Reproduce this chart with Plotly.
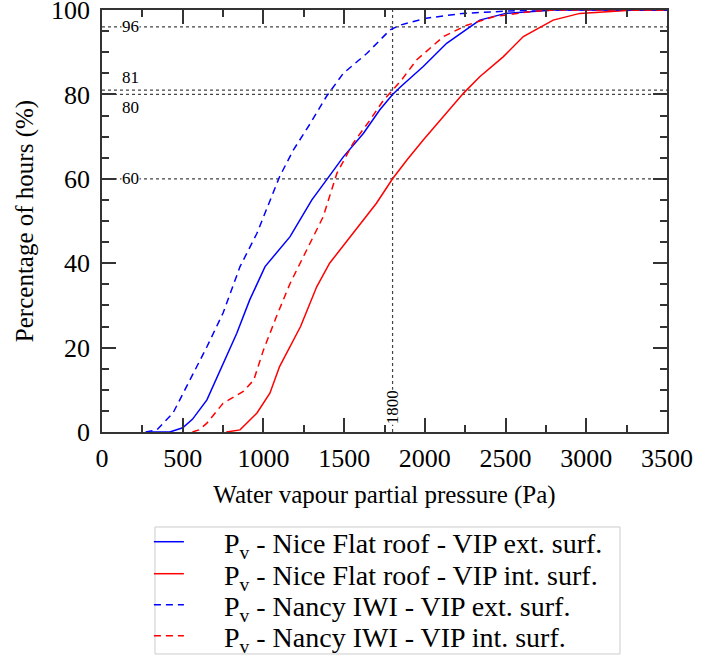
import plotly.graph_objects as go

# Nice flat roof - VIP exterior surface (blue solid)
nice_ext_x = [300, 420, 500, 560, 650, 750, 835, 915, 1010, 1165, 1300, 1390, 1495, 1620, 1720, 1800, 1850, 1990, 2135, 2280, 2340, 2500, 2650, 2800, 3500]
nice_ext_y = [0, 0, 1, 3, 7.6, 16.3, 23.4, 31.3, 39.2, 46.3, 55, 59.7, 65.2, 70.8, 76.3, 80, 81.8, 86.6, 92.1, 96, 97.6, 99.2, 99.6, 100, 100]

# Nice flat roof - VIP interior surface (red solid)
nice_int_x = [770, 855, 960, 1040, 1100, 1230, 1330, 1410, 1555, 1700, 1800, 1890, 1990, 2115, 2240, 2340, 2485, 2610, 2795, 2960, 3170, 3300, 3500]
nice_int_y = [0, 0.5, 4.5, 9.2, 15.5, 25, 34.4, 40, 47.1, 54.2, 60, 64.5, 69.2, 74.7, 80.3, 84.2, 88.9, 93.7, 97.6, 99.2, 99.8, 100, 100]

# Nancy IWI - VIP exterior surface (blue dashed)
nancy_ext_x = [270, 340, 440, 545, 650, 750, 855, 960, 1040, 1100, 1185, 1290, 1390, 1495, 1640, 1785, 1845, 2000, 2235, 2500, 2650, 3500]
nancy_ext_y = [0, 0.5, 4.5, 12.3, 20.2, 28.2, 39.2, 47.1, 55, 60.5, 66.8, 73.1, 79.5, 85, 89.7, 95.3, 96.4, 98, 99.2, 99.6, 100, 100]

# Nancy IWI - VIP interior surface (red dashed)
nancy_int_x = [560, 600, 650, 750, 875, 940, 1000, 1080, 1165, 1270, 1370, 1455, 1555, 1660, 1745, 1800, 1855, 1950, 2115, 2260, 2425, 2650, 2800, 3500]
nancy_int_y = [0, 0.5, 2.1, 6.8, 9.6, 12.3, 19.4, 27.3, 35.2, 43.1, 51, 61.3, 68.4, 73.9, 78.7, 81, 83.4, 88.2, 93.7, 96.4, 98.4, 99.6, 100, 100]

series_names = [
    "P<sub>v</sub> - Nice Flat roof - VIP ext. surf.",
    "P<sub>v</sub> - Nice Flat roof - VIP int. surf.",
    "P<sub>v</sub> - Nancy IWI - VIP ext. surf.",
    "P<sub>v</sub> - Nancy IWI - VIP int. surf.",
]

ref_levels = [96, 81, 80, 60]
ref_pressure = 1800

FONT = "Liberation Serif"
pad = "\u00a0" * 5

fig = go.Figure()
specs = [
    (nice_ext_x, nice_ext_y, "#0000ff", "solid"),
    (nice_int_x, nice_int_y, "#ff0000", "solid"),
    (nancy_ext_x, nancy_ext_y, "#0000ff", "7px,5px"),
    (nancy_int_x, nancy_int_y, "#ff0000", "7px,5px"),
]
legend_ids = ["legend", "legend2", "legend3", "legend4"]
for (xs, ys, col, dash), name, lid in zip(specs, series_names, legend_ids):
    fig.add_trace(go.Scatter(x=xs, y=ys, mode="lines", name=pad + name, legend=lid,
                             line=dict(color=col, width=1.5, dash=dash)))

# reference dotted lines
for lv in ref_levels:
    fig.add_shape(type="line", x0=0, x1=3500, y0=lv, y1=lv, xref="x", yref="y",
                  line=dict(color="#444", width=1.2, dash="dot"), layer="below")
fig.add_shape(type="line", x0=ref_pressure, x1=ref_pressure, y0=0, y1=100, xref="x", yref="y",
              line=dict(color="#444", width=1.2, dash="dot"), layer="below")

# legend frame
fig.add_shape(type="rect", xref="paper", yref="paper", x0=0.0938, x1=0.9168, y0=-0.2251, y1=-0.5260,
              line=dict(color="#cccccc", width=1), fillcolor="rgba(0,0,0,0)")

ann_font = dict(family=FONT, size=17, color="black")
fig.add_annotation(x=175, y=96, text="96", showarrow=False, font=ann_font, bgcolor="white", borderpad=0)
fig.add_annotation(x=175, y=81, text="81", showarrow=False, font=ann_font, yanchor="bottom", yshift=1)
fig.add_annotation(x=175, y=80, text="80", showarrow=False, font=ann_font, yanchor="top", yshift=-2)
fig.add_annotation(x=175, y=60, text="60", showarrow=False, font=ann_font, bgcolor="white", borderpad=0)
fig.add_annotation(x=ref_pressure, y=1.5, text=str(ref_pressure), showarrow=False, font=ann_font,
                   textangle=-90, yanchor="bottom", bgcolor="white", borderpad=0)

axis_common = dict(
    showline=True, linecolor="#333", linewidth=1.5, mirror="ticks",
    ticks="inside", ticklen=14, tickwidth=1.5, tickcolor="#333",
    showgrid=False, zeroline=False, automargin=False,
    ticklabeloverflow="allow",
    tickfont=dict(family=FONT, size=26, color="black"),
)

leg_common = dict(x=0.083, xanchor="left", yanchor="middle", borderwidth=0,
                  bgcolor="rgba(0,0,0,0)",
                  font=dict(family=FONT, size=28, color="black"))
leg_y = [-0.2607, -0.3365, -0.4100, -0.4835]

fig.update_layout(
    width=710, height=662,
    margin=dict(l=102, r=43, t=10, b=230, autoexpand=False),
    paper_bgcolor="white", plot_bgcolor="white",
    font=dict(family=FONT, color="black"),
    xaxis=dict(range=[0, 3500], dtick=500, tick0=0,
               minor=dict(ticks="inside", ticklen=7, dtick=250, tickcolor="#333", tickwidth=1.5),
               title=dict(text="Water vapour partial pressure (Pa)", font=dict(family=FONT, size=25), standoff=14),
               ticklabelstandoff=2,
               **axis_common),
    yaxis=dict(range=[0, 100], dtick=20, tick0=0,
               minor=dict(ticks="inside", ticklen=7, dtick=5, tickcolor="#333", tickwidth=1.5),
               title=dict(text="Percentage of hours (%)", font=dict(family=FONT, size=25), standoff=10),
               ticklabelstandoff=5,
               **axis_common),
    showlegend=True,
    legend=dict(y=leg_y[0], **leg_common),
    legend2=dict(y=leg_y[1], **leg_common),
    legend3=dict(y=leg_y[2], **leg_common),
    legend4=dict(y=leg_y[3], **leg_common),
)

fig.write_html("out.html", config={"displayModeBar": False},
               post_script="document.body.style.margin='0px';")
